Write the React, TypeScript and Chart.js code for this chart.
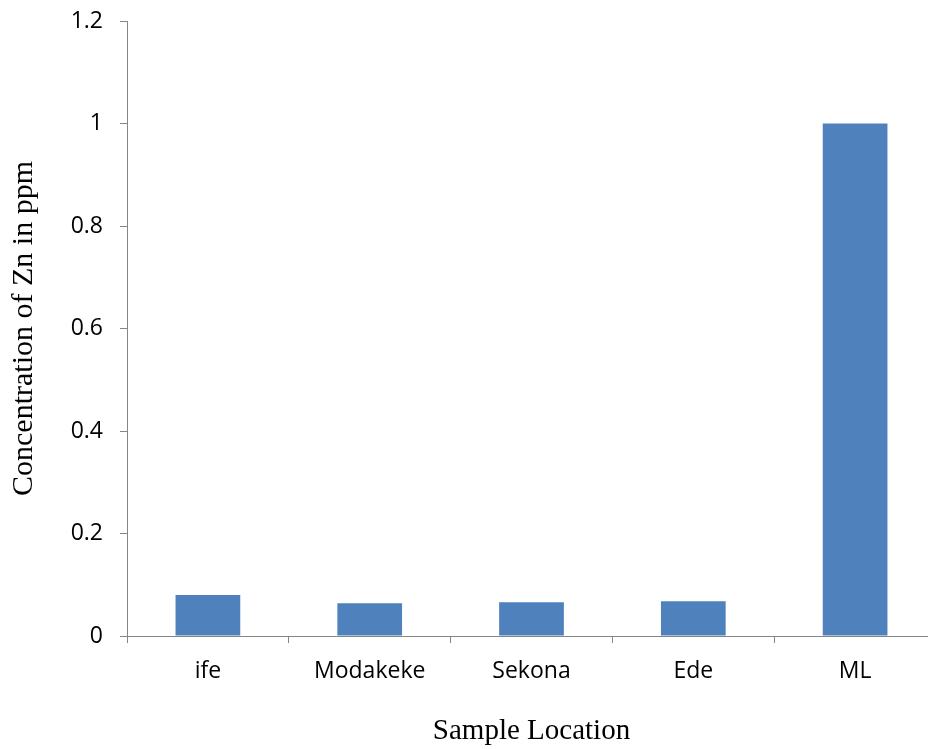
import React, { useEffect, useRef } from "react";
import { Chart, registerables } from "chart.js";

Chart.register(...registerables);

// Zinc concentration by sampling site
const categories = ["ife", "Modakeke", "Sekona", "Ede", "ML"];
const zincPpm = [0.08, 0.064, 0.066, 0.068, 1.0];
const yTickLabels = ["0", "0.2", "0.4", "0.6", "0.8", "1", "1.2"];

const xTitle = "Sample Location";
const yTitle = "Concentration of Zn in ppm";

const BAR_BLUE = "#4F81BD";
const AXIS_GREY = "#868686";
const TICK_FONT = "'Open Sans', 'Noto Sans', sans-serif";
const TITLE_FONT = "'Liberation Serif', 'Times New Roman', serif";

const CANVAS_W = 960;
const CANVAS_H = 749;

export default function App() {
  const canvasRef = useRef<HTMLCanvasElement | null>(null);

  useEffect(() => {
    const canvas = canvasRef.current;
    if (!canvas) return;
    const chart = new Chart(canvas, {
      type: "bar",
      data: {
        labels: categories,
        datasets: [
          {
            data: zincPpm,
            backgroundColor: BAR_BLUE,
            borderWidth: 0,
            barPercentage: 0.4,
            categoryPercentage: 1,
          },
        ],
      },
      options: {
        responsive: false,
        animation: false,
        devicePixelRatio: 1,
        layout: { padding: { top: 21, right: 24, left: 0, bottom: 0 } },
        plugins: {
          legend: { display: false },
          tooltip: { enabled: false },
        },
        scales: {
          x: {
            offset: true,
            grid: {
              display: true,
              offset: true,
              drawOnChartArea: false,
              drawTicks: true,
              tickLength: 7,
              color: AXIS_GREY,
              lineWidth: 1,
            },
            border: { display: true, color: AXIS_GREY, width: 1 },
            ticks: {
              color: "#000",
              padding: 15,
              font: { family: TICK_FONT, size: 23 },
              maxRotation: 0,
              autoSkip: false,
            },
            title: {
              display: true,
              text: xTitle,
              color: "#000",
              font: { family: TITLE_FONT, size: 29 },
              padding: { top: 0, bottom: 0 },
            },
            afterFit: (scale: any) => {
              scale.height = CANVAS_H - 636;
              scale.paddingLeft = 0;
              scale.paddingRight = 0;
            },
          },
          y: {
            min: 0,
            max: 1.2,
            grid: {
              display: true,
              drawOnChartArea: false,
              drawTicks: true,
              tickLength: 7,
              color: AXIS_GREY,
              lineWidth: 1,
            },
            border: { display: true, color: AXIS_GREY, width: 1 },
            ticks: {
              stepSize: 0.2,
              color: "#000",
              padding: 17,
              font: { family: TICK_FONT, size: 23 },
              callback: (_v: any, i: number) => yTickLabels[i],
            },
            title: {
              display: true,
              text: yTitle,
              color: "#000",
              font: { family: TITLE_FONT, size: 30 },
              padding: { top: 6, bottom: 0 },
            },
            afterFit: (scale: any) => {
              scale.width = 127;
              scale.paddingTop = 0;
              scale.paddingBottom = 0;
            },
          },
        },
      },
    });
    return () => chart.destroy();
  }, []);

  return (
    <div
      style={{
        position: "fixed",
        left: 0,
        top: 0,
        width: 928,
        height: 749,
        overflow: "hidden",
        background: "#fff",
      }}
    >
      <canvas
        ref={canvasRef}
        width={CANVAS_W}
        height={CANVAS_H}
        style={{ display: "block", width: CANVAS_W, height: CANVAS_H }}
      />
    </div>
  );
}
